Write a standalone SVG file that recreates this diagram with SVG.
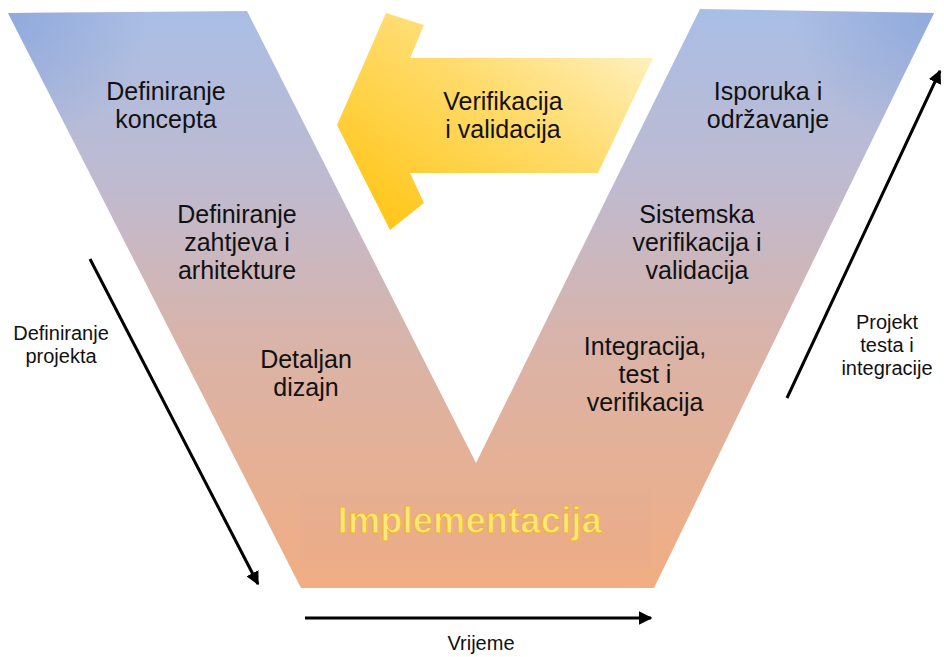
<svg xmlns="http://www.w3.org/2000/svg" width="944" height="657" viewBox="0 0 944 657">
  <defs>
    <linearGradient id="vGrad" gradientUnits="userSpaceOnUse" x1="0" y1="10" x2="0" y2="588">
      <stop offset="0" stop-color="#a9bee5"/>
      <stop offset="0.3" stop-color="#bfbad0"/>
      <stop offset="0.6" stop-color="#dbb3a6"/>
      <stop offset="1" stop-color="#f1ad82"/>
    </linearGradient>
    <radialGradient id="cornerL" gradientUnits="userSpaceOnUse" cx="8" cy="13" r="140">
      <stop offset="0" stop-color="#8aa5da" stop-opacity="0.8"/>
      <stop offset="1" stop-color="#8aa5da" stop-opacity="0"/>
    </radialGradient>
    <radialGradient id="cornerR" gradientUnits="userSpaceOnUse" cx="934" cy="13" r="140">
      <stop offset="0" stop-color="#8aa5da" stop-opacity="0.8"/>
      <stop offset="1" stop-color="#8aa5da" stop-opacity="0"/>
    </radialGradient>
    <linearGradient id="arrowGrad" x1="1" y1="0" x2="0" y2="1">
      <stop offset="0" stop-color="#fff6d6"/>
      <stop offset="0.45" stop-color="#ffdb6b"/>
      <stop offset="1" stop-color="#ffc20a"/>
    </linearGradient>
    <marker id="ah" viewBox="0 0 10 10" refX="9" refY="5" markerWidth="4.5" markerHeight="4.5" orient="auto" markerUnits="strokeWidth">
      <path d="M0,0 L10,5 L0,10 z" fill="#000"/>
    </marker>
  </defs>
  <style>
    .lbl { font-family: "Liberation Sans", Arial, sans-serif; font-size: 25px; fill: #111; text-anchor: middle; }
    .side { font-family: "Liberation Sans", Arial, sans-serif; font-size: 20px; fill: #111; text-anchor: middle; }
    .impl { font-family: "Liberation Sans", Arial, sans-serif; font-size: 36px; font-weight: bold; fill: #fde77c; stroke: #f2b32a; stroke-width: 1; text-anchor: middle; letter-spacing: 0.3px; }
    .conn { stroke: #000; stroke-width: 3; fill: none; marker-end: url(#ah); }
  </style>

  <g id="v-shape">
    <polygon points="8,13 247,11 476,463 700,9 934,13 654,588 301,588" fill="url(#vGrad)"/>
    <polygon points="8,13 247,11 476,463 700,9 934,13 654,588 301,588" fill="url(#cornerL)"/>
    <polygon points="8,13 247,11 476,463 700,9 934,13 654,588 301,588" fill="url(#cornerR)"/>
    <rect x="300" y="490" width="350" height="77" fill="#dba69a" opacity="0.15"/>
  </g>

  <g id="verification-arrow">
    <polygon points="337,125 386,13 424,25 410,58 653,58 598,173 410,173 424,203 390,230" fill="url(#arrowGrad)"/>
    <text class="lbl" x="503" y="110">Verifikacija</text>
    <text class="lbl" x="503" y="138">i validacija</text>
  </g>

  <g id="node-concept">
    <text class="lbl" x="166" y="100">Definiranje</text>
    <text class="lbl" x="166" y="128">koncepta</text>
  </g>

  <g id="node-requirements">
    <text class="lbl" x="237" y="223">Definiranje</text>
    <text class="lbl" x="237" y="251">zahtjeva i</text>
    <text class="lbl" x="237" y="279">arhitekture</text>
  </g>

  <g id="node-design">
    <text class="lbl" x="306" y="368">Detaljan</text>
    <text class="lbl" x="306" y="396">dizajn</text>
  </g>

  <g id="node-implementation">
    <text class="impl" x="470" y="533">Implementacija</text>
  </g>

  <g id="node-integration">
    <text class="lbl" x="645" y="355">Integracija,</text>
    <text class="lbl" x="645" y="383">test i</text>
    <text class="lbl" x="645" y="411">verifikacija</text>
  </g>

  <g id="node-system">
    <text class="lbl" x="697" y="223">Sistemska</text>
    <text class="lbl" x="697" y="251">verifikacija i</text>
    <text class="lbl" x="697" y="279">validacija</text>
  </g>

  <g id="node-delivery">
    <text class="lbl" x="768" y="100">Isporuka i</text>
    <text class="lbl" x="768" y="128">održavanje</text>
  </g>

  <g id="connectors">
    <line class="conn" x1="90" y1="259" x2="258" y2="584"/>
    <line class="conn" x1="787" y1="398" x2="940" y2="71"/>
    <line class="conn" x1="305" y1="618" x2="651" y2="618"/>
  </g>

  <g id="label-project-definition">
    <text class="side" x="61" y="340">Definiranje</text>
    <text class="side" x="61" y="363">projekta</text>
  </g>

  <g id="label-test-integration">
    <text class="side" x="887" y="329">Projekt</text>
    <text class="side" x="887" y="352">testa i</text>
    <text class="side" x="887" y="375">integracije</text>
  </g>

  <g id="label-time">
    <text class="side" x="481" y="650">Vrijeme</text>
  </g>
</svg>
